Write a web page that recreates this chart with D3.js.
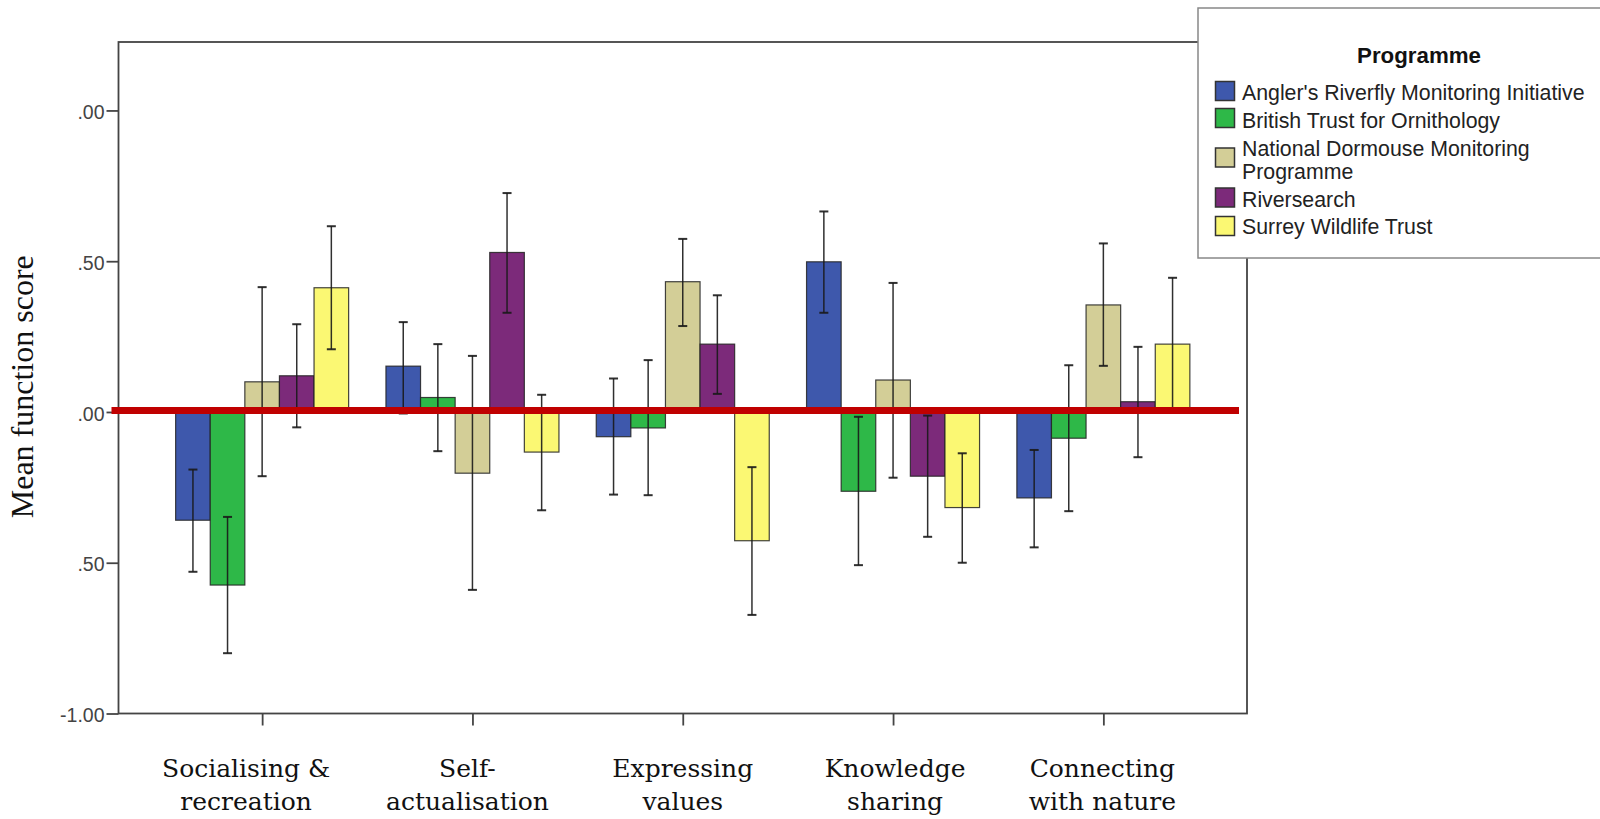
<!DOCTYPE html>
<html>
<head>
<meta charset="utf-8">
<script src="https://cdn.jsdelivr.net/npm/d3@7"></script>
<style>
  html, body { margin: 0; padding: 0; background: #fff; }
  svg { display: block; }
</style>
</head>
<body>
<svg id="chart" width="1600" height="819"></svg>
<script>
// ---------------- DATA ----------------
const categories = ["Socialising & recreation", "Self-actualisation", "Expressing values", "Knowledge sharing", "Connecting with nature"];
const categoryLines = [["Socialising &", "recreation"], ["Self-", "actualisation"], ["Expressing", "values"], ["Knowledge", "sharing"], ["Connecting", "with nature"]];
const programmes = ["Angler's Riverfly Monitoring Initiative", "British Trust for Ornithology", "National Dormouse Monitoring Programme", "Riversearch", "Surrey Wildlife Trust"];
const legendLines = [["Angler's Riverfly Monitoring Initiative"], ["British Trust for Ornithology"], ["National Dormouse Monitoring", "Programme"], ["Riversearch"], ["Surrey Wildlife Trust"]];

const anglerMean  = [-0.359, 0.152, -0.082, 0.498, -0.285];
const anglerLow   = [-0.530, -0.005, -0.274, 0.329, -0.449];
const anglerHigh  = [-0.191, 0.298, 0.111, 0.665, -0.126];

const btoMean     = [-0.574, 0.048, -0.053, -0.263, -0.087];
const btoLow      = [-0.800, -0.130, -0.276, -0.508, -0.329];
const btoHigh     = [-0.348, 0.225, 0.172, -0.016, 0.155];

const dormouseMean = [0.100, -0.203, 0.432, 0.106, 0.355];
const dormouseLow  = [-0.213, -0.590, 0.285, -0.218, 0.153];
const dormouseHigh = [0.414, 0.186, 0.574, 0.428, 0.559];

const riverMean   = [0.120, 0.529, 0.225, -0.213, 0.034];
const riverLow    = [-0.051, 0.329, 0.060, -0.414, -0.150];
const riverHigh   = [0.291, 0.726, 0.387, -0.012, 0.216];

const surreyMean  = [0.412, -0.133, -0.427, -0.317, 0.225];
const surreyLow   = [0.208, -0.326, -0.673, -0.500, 0.005];
const surreyHigh  = [0.616, 0.057, -0.183, -0.137, 0.445];

const tickValues = [1, 0.5, 0, -0.5, -1];
const tickLabels = [".00", ".50", ".00", ".50", "-1.00"];
const yDomain = [-1, 1.227];

// ---------------- STYLE / LAYOUT ----------------
const colors = ["#3E58AC", "#2EB848", "#D3CE97", "#7C2A7A", "#FBF873"];
const frame = { left: 118.5, top: 42, right: 1247, bottom: 713.5 };
const labelNudge = [-16, -5, 0, 2, -1];

const seriesMeans = [anglerMean, btoMean, dormouseMean, riverMean, surreyMean];
const seriesLow = [anglerLow, btoLow, dormouseLow, riverLow, surreyLow];
const seriesHigh = [anglerHigh, btoHigh, dormouseHigh, riverHigh, surreyHigh];

const rows = [];
programmes.forEach((p, pi) => {
  categories.forEach((c, ci) => {
    rows.push({ prog: p, pi, cat: c, ci, mean: seriesMeans[pi][ci], low: seriesLow[pi][ci], high: seriesHigh[pi][ci] });
  });
});

const svg = d3.select("#chart");
svg.append("rect").attr("width", 1600).attr("height", 819).attr("fill", "#fff");

const y = d3.scaleLinear().domain(yDomain).range([frame.bottom, frame.top]);
const x = d3.scalePoint().domain(categories).range([frame.left, frame.right]).padding(0.683);
const inner = d3.scaleBand().domain(programmes).range([-86.5, 86.5]);
const color = d3.scaleOrdinal().domain(programmes).range(colors);

// Y axis
const yAxis = svg.append("g")
  .attr("transform", `translate(${frame.left},0)`)
  .call(d3.axisLeft(y).tickValues(tickValues).tickFormat((d, i) => tickLabels[i]).tickSize(12).tickPadding(2));
yAxis.select(".domain").remove();
yAxis.selectAll(".tick line").attr("stroke", "#444").attr("stroke-width", 1.8);
yAxis.selectAll(".tick text")
  .attr("font-family", "'Liberation Sans', Arial, sans-serif")
  .attr("font-size", 19.5)
  .attr("fill", "#444")
  .attr("dy", "0.42em");

// X axis
const xAxis = svg.append("g")
  .attr("transform", `translate(0,${frame.bottom})`)
  .call(d3.axisBottom(x).tickSize(12).tickFormat(""));
xAxis.select(".domain").remove();
xAxis.selectAll(".tick line").attr("stroke", "#444").attr("stroke-width", 1.8);

// Category labels
const catG = svg.append("g");
categories.forEach((c, i) => {
  const t = catG.append("text")
    .attr("x", x(c) + labelNudge[i])
    .attr("y", 777)
    .attr("text-anchor", "middle")
    .attr("font-family", "'DejaVu Serif', serif")
    .attr("font-size", 25)
    .attr("fill", "#111");
  categoryLines[i].forEach((line, li) => {
    t.append("tspan").attr("x", x(c) + labelNudge[i]).attr("dy", li === 0 ? 0 : 32.5).text(line);
  });
});

// Bars
svg.append("g").selectAll("rect")
  .data(rows)
  .join("rect")
  .attr("x", d => x(d.cat) + inner(d.prog))
  .attr("width", inner.bandwidth())
  .attr("y", d => Math.min(y(d.mean), y(0)))
  .attr("height", d => Math.abs(y(d.mean) - y(0)))
  .attr("fill", d => color(d.prog))
  .attr("stroke", "#222")
  .attr("stroke-opacity", 0.85)
  .attr("stroke-width", 1.2);

// Error bars
const capHalf = 4.5;
const eb = svg.append("g").attr("stroke", "#1a1a1a").attr("stroke-width", 1.5).attr("stroke-opacity", 0.9);
rows.forEach(d => {
  const cx = x(d.cat) + inner(d.prog) + inner.bandwidth() / 2;
  eb.append("line").attr("x1", cx).attr("x2", cx).attr("y1", y(d.high)).attr("y2", y(d.low));
  eb.append("line").attr("x1", cx - capHalf).attr("x2", cx + capHalf).attr("y1", y(d.high)).attr("y2", y(d.high)).attr("stroke-width", 2);
  eb.append("line").attr("x1", cx - capHalf).attr("x2", cx + capHalf).attr("y1", y(d.low)).attr("y2", y(d.low)).attr("stroke-width", 2);
});

// Frame
svg.append("rect")
  .attr("x", frame.left).attr("y", frame.top)
  .attr("width", frame.right - frame.left).attr("height", frame.bottom - frame.top)
  .attr("fill", "none").attr("stroke", "#444").attr("stroke-width", 1.8);

// Red zero line
svg.append("line")
  .attr("x1", frame.left - 7).attr("x2", frame.right - 8)
  .attr("y1", y(0) - 1.5).attr("y2", y(0) - 1.5)
  .attr("stroke", "#C00000").attr("stroke-width", 7);

// Y title
svg.append("text")
  .attr("transform", `translate(33,${(frame.top + frame.bottom) / 2 + 9}) rotate(-90)`)
  .attr("text-anchor", "middle")
  .attr("font-family", "'Liberation Serif', 'Times New Roman', serif")
  .attr("font-size", 32)
  .attr("fill", "#111")
  .text("Mean function score");

// Legend
const lg = svg.append("g");
lg.append("rect").attr("x", 1198).attr("y", 8).attr("width", 420).attr("height", 250)
  .attr("fill", "#fff").attr("stroke", "#888").attr("stroke-width", 1.5);
lg.append("text").attr("x", 1419).attr("y", 63).attr("text-anchor", "middle")
  .attr("font-family", "'Liberation Sans', Arial, sans-serif").attr("font-size", 22.3)
  .attr("font-weight", "bold").attr("fill", "#111").text("Programme");
const swatchY = [81.5, 108.5, 148, 188, 216.5];
const textY = [[99.5], [127.5], [156, 178.5], [206.5], [234]];
programmes.forEach((p, i) => {
  lg.append("rect").attr("x", 1215.5).attr("y", swatchY[i]).attr("width", 19).attr("height", 19)
    .attr("fill", color(p)).attr("stroke", "#333").attr("stroke-width", 1.5);
  legendLines[i].forEach((line, li) => {
    lg.append("text").attr("x", 1242).attr("y", textY[i][li])
      .attr("font-family", "'Liberation Sans', Arial, sans-serif").attr("font-size", 21.3)
      .attr("fill", "#222").text(line);
  });
});
</script>
</body>
</html>
